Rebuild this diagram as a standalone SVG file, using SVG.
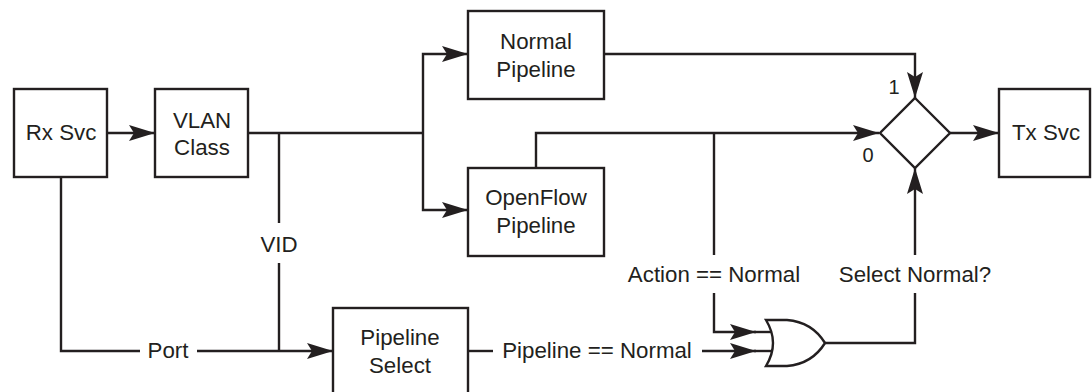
<svg xmlns="http://www.w3.org/2000/svg" width="1092" height="392" viewBox="0 0 1092 392">
<style>
.box{fill:#fff;stroke:#231f20;stroke-width:2.4}
.ln{fill:none;stroke:#231f20;stroke-width:2.4}
.arr{fill:none;stroke:#231f20;stroke-width:2.4;marker-end:url(#ah)}
text{font-family:"Liberation Sans",Arial,Helvetica,sans-serif;font-size:22.3px;fill:#231f20;text-anchor:middle}
</style>
<defs>
<marker id="ah" markerUnits="userSpaceOnUse" markerWidth="28" markerHeight="18" refX="26" refY="9" orient="auto">
<path d="M0,1 Q13,5 26,9 Q13,13 0,17 L5,9 Z" fill="#231f20"/>
</marker>
</defs>
<rect width="1092" height="392" fill="#fff"/>
<g id="connectors">
<path class="arr" d="M107,133 H155"/>
<path class="ln" d="M248,133 H423"/>
<path class="arr" d="M423,133 V54 H468"/>
<path class="arr" d="M423,133 V210 H468"/>
<path class="ln" d="M279,133 V223"/>
<path class="ln" d="M279,263 V351"/>
<path class="ln" d="M61,177 V351 H140"/>
<path class="arr" d="M197,351 H333"/>
<path class="arr" d="M604,54 H915 V98"/>
<path class="arr" d="M536,168 V133 H879"/>
<path class="ln" d="M714,133 V255"/>
<path class="arr" d="M714,293 V332 H756"/>
<path class="ln" d="M754,332 H772"/>
<path class="ln" d="M468,351 H493"/>
<path class="arr" d="M702,351 H756"/>
<path class="ln" d="M754,351 H773"/>
<path class="ln" d="M825,343 H915 V293"/>
<path class="arr" d="M915,255 V168"/>
<path class="arr" d="M949,133 H999"/>
<text x="279" y="252">VID</text>
<text x="168" y="358">Port</text>
<text x="597" y="358">Pipeline == Normal</text>
<text x="714" y="282">Action == Normal</text>
<text x="915" y="282">Select Normal?</text>
<text x="894" y="94" style="font-size:20px">1</text>
<text x="868" y="162" style="font-size:20px">0</text>
</g>
<g id="rx-svc">
<rect class="box" x="14" y="89" width="93" height="88"/>
<text x="61" y="140">Rx Svc</text>
</g>
<g id="vlan-class">
<rect class="box" x="155" y="89" width="93" height="88"/>
<text x="202" y="128">VLAN</text>
<text x="202" y="155">Class</text>
</g>
<g id="normal-pipeline">
<rect class="box" x="468" y="11" width="136" height="88"/>
<text x="536" y="49">Normal</text>
<text x="536" y="77">Pipeline</text>
</g>
<g id="openflow-pipeline">
<rect class="box" x="468" y="168" width="136" height="88"/>
<text x="536" y="205">OpenFlow</text>
<text x="536" y="233">Pipeline</text>
</g>
<g id="pipeline-select">
<rect class="box" x="333" y="308" width="135" height="92"/>
<text x="400" y="345">Pipeline</text>
<text x="400" y="373">Select</text>
</g>
<g id="mux">
<polygon class="box" points="915,98 950,133 915,168 880,133"/>
</g>
<g id="or-gate">
<path class="box" d="M766,320 L787,320 Q812,322 825,343 Q812,364 787,366 L766,366 Q780,343 766,320 Z"/>
</g>
<g id="tx-svc">
<rect class="box" x="999" y="89" width="91" height="88"/>
<text x="1046" y="140">Tx Svc</text>
</g>
</svg>
